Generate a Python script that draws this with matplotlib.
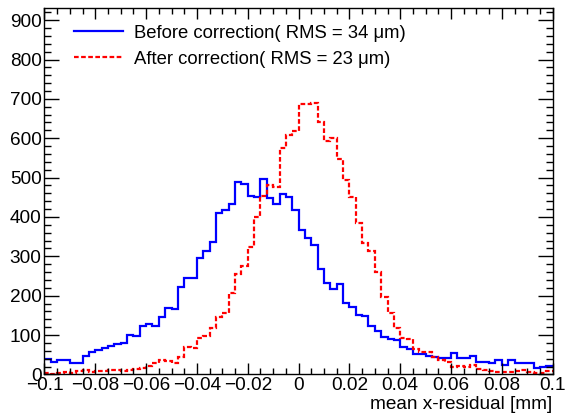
import numpy as np
import matplotlib
matplotlib.use("Agg")
import matplotlib.pyplot as plt
from matplotlib.ticker import MultipleLocator, FixedLocator

plt.rcParams['font.family'] = ['Liberation Sans', 'DejaVu Sans']

# histogram definition: 80 bins from -0.1 to 0.1 mm
x_min, x_max, n_bins = -0.1, 0.1, 80

before = [39, 32, 36, 36, 30, 30, 47, 57, 62, 67,
          72, 78, 81, 100, 97, 124, 129, 123, 145, 170,
          166, 221, 246, 246, 296, 313, 336, 411, 417, 433,
          490, 483, 453, 450, 497, 448, 432, 458, 451, 418,
          366, 347, 330, 267, 233, 216, 229, 182, 172, 152,
          148, 123, 111, 96, 89, 88, 70, 64, 52, 51,
          47, 45, 43, 41, 55, 43, 42, 47, 32, 32,
          30, 38, 25, 38, 28, 30, 28, 17, 18, 22]

after = [3, 2, 5, 6, 5, 8, 12, 7, 8, 9,
         11, 12, 10, 11, 14, 17, 21, 28, 38, 34,
         29, 44, 70, 68, 93, 97, 119, 146, 156, 207,
         256, 275, 323, 400, 453, 481, 477, 574, 608, 619,
         686, 688, 690, 640, 594, 601, 547, 494, 450, 384,
         333, 313, 261, 197, 157, 119, 93, 91, 64, 56,
         58, 45, 38, 32, 19, 21, 19, 24, 13, 11,
         8, 7, 7, 7, 9, 11, 7, 4, 3, 9]

labels = ["Before correction( RMS = 34 \u03bcm)", "After correction( RMS = 23 \u03bcm)"]
x_title = "mean x-residual [mm]"
x_ticks = [-0.1, -0.08, -0.06, -0.04, -0.02, 0, 0.02, 0.04, 0.06, 0.08, 0.1]
x_ticklabels = ["\u22120.1", "\u22120.08", "\u22120.06", "\u22120.04", "\u22120.02", "0",
                "0.02", "0.04", "0.06", "0.08", "0.1"]
y_ticks = [0, 100, 200, 300, 400, 500, 600, 700, 800, 900]
y_max = 930

edges = np.linspace(x_min, x_max, n_bins + 1)

fig = plt.figure(figsize=(5.68, 4.16), dpi=100)
ax = fig.add_axes([0.0783, 0.0998, 0.8947, 0.8802])

ax.stairs(before, edges, baseline=None, color='#0000ff', lw=1.6, label=labels[0])
ax.stairs(after, edges, baseline=None, color='#ff0000', lw=1.6,
          linestyle=(0, (2.1, 1.1)), label=labels[1])

ax.set_xlim(x_min, x_max)
ax.set_ylim(0, y_max)

ax.xaxis.set_major_locator(FixedLocator(x_ticks))
ax.set_xticklabels(x_ticklabels)
ax.xaxis.set_minor_locator(MultipleLocator(0.005))
ax.yaxis.set_major_locator(FixedLocator(y_ticks))
ax.yaxis.set_minor_locator(MultipleLocator(20))

fs = 13.7
ax.tick_params(axis='both', which='both', direction='in', top=True, right=True,
               labelsize=fs, width=1.0, color='black')
ax.tick_params(axis='x', which='major', length=8, pad=2)
ax.tick_params(axis='x', which='minor', length=4)
ax.tick_params(axis='y', which='major', length=10.5, pad=2)
ax.tick_params(axis='y', which='minor', length=5.3)
for sp in ax.spines.values():
    sp.set_linewidth(1.0)

ax.set_xlabel(x_title, fontsize=fs, loc='right', labelpad=1)

leg = ax.legend(loc='upper left', bbox_to_anchor=(0.058, 0.955), frameon=False,
                fontsize=13.3, handlelength=2.65, handletextpad=0.6,
                labelspacing=0.48, borderaxespad=0.0, borderpad=0.0)

fig.savefig("out.png", dpi=100)
